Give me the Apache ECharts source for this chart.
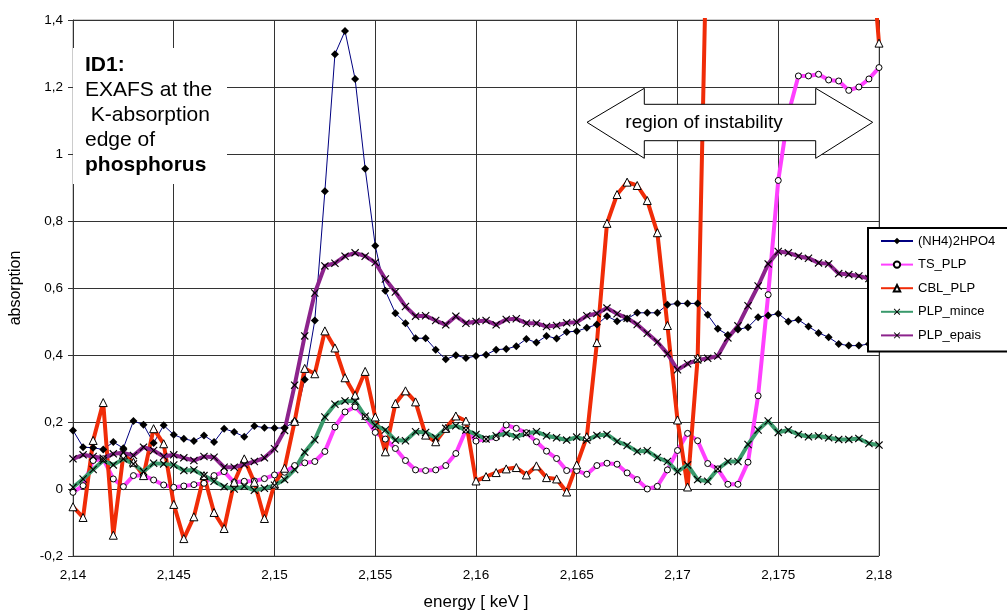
<!DOCTYPE html>
<html>
<head>
<meta charset="utf-8">
<script src="https://cdn.jsdelivr.net/npm/echarts@6/dist/echarts.min.js"></script>
<style>
  html, body { margin: 0; padding: 0; background: #fff; }
  #main { width: 1007px; height: 616px; }
</style>
</head>
<body>
<div id="main"></div>
<script>
// energy grid [keV], one sample every 0,0005
const energy = [
  2.14, 2.1405, 2.141, 2.1415, 2.142, 2.1425, 2.143, 2.1435, 2.144, 2.1445,
  2.145, 2.1455, 2.146, 2.1465, 2.147, 2.1475, 2.148, 2.1485, 2.149, 2.1495,
  2.15, 2.1505, 2.151, 2.1515, 2.152, 2.1525, 2.153, 2.1535, 2.154, 2.1545,
  2.155, 2.1555, 2.156, 2.1565, 2.157, 2.1575, 2.158, 2.1585, 2.159, 2.1595,
  2.16, 2.1605, 2.161, 2.1615, 2.162, 2.1625, 2.163, 2.1635, 2.164, 2.1645,
  2.165, 2.1655, 2.166, 2.1665, 2.167, 2.1675, 2.168, 2.1685, 2.169, 2.1695,
  2.17, 2.1705, 2.171, 2.1715, 2.172, 2.1725, 2.173, 2.1735, 2.174, 2.1745,
  2.175, 2.1755, 2.176, 2.1765, 2.177, 2.1775, 2.178, 2.1785, 2.179, 2.1795, 2.18
]

const nh4 = [
  0.175, 0.125, 0.123, 0.118, 0.14, 0.122, 0.203, 0.192, 0.137, 0.19,
  0.162, 0.15, 0.143, 0.16, 0.14, 0.18, 0.17, 0.156, 0.188, 0.183,
  0.182, 0.182, 0.202, 0.327, 0.503, 0.889, 1.298, 1.367, 1.224, 0.956,
  0.726, 0.592, 0.525, 0.495, 0.45, 0.45, 0.416, 0.387, 0.399, 0.391,
  0.397, 0.401, 0.416, 0.418, 0.426, 0.448, 0.437, 0.457, 0.449, 0.469,
  0.471, 0.481, 0.491, 0.516, 0.501, 0.508, 0.526, 0.526, 0.526, 0.55,
  0.554, 0.554, 0.554, 0.52, 0.478, 0.46, 0.476, 0.483, 0.513, 0.518,
  0.523, 0.5, 0.505, 0.485, 0.466, 0.453, 0.433, 0.428, 0.428, 0.433, 0.43
]

const tsPlp = [
  -0.01, 0.01, 0.085, 0.09, 0.03, 0.007, 0.04, 0.04, 0.027, 0.012,
  0.005, 0.009, 0.013, 0.017, 0.04, 0.052, 0.02, 0.023, 0.024, 0.031,
  0.042, 0.05, 0.07, 0.078, 0.082, 0.112, 0.185, 0.23, 0.245, 0.215,
  0.169, 0.149, 0.121, 0.085, 0.057, 0.055, 0.057, 0.07, 0.106, 0.176,
  0.143, 0.149, 0.153, 0.191, 0.181, 0.168, 0.141, 0.113, 0.091, 0.055,
  0.055, 0.044, 0.07, 0.077, 0.074, 0.048, 0.028, 0.0, 0.008, 0.057,
  0.115, 0.166, 0.144, 0.076, 0.06, 0.014, 0.014, 0.08, 0.278, 0.58,
  0.921, 1.12, 1.233, 1.233, 1.238, 1.221, 1.218, 1.19, 1.2, 1.224, 1.258
]

// off scale (above 1,4) between 2,1715 and 2,1795
const cblPlp = [
  -0.053, -0.085, 0.145, 0.258, -0.138, 0.102, 0.08, 0.04, 0.18, 0.135,
  -0.046, -0.148, -0.083, 0.04, -0.07, -0.118, 0.02, 0.09, 0.02, -0.088,
  0.015, 0.062, 0.202, 0.36, 0.344, 0.472, 0.421, 0.332, 0.28, 0.351,
  0.215, 0.111, 0.255, 0.293, 0.26, 0.161, 0.141, 0.181, 0.218, 0.203,
  0.024, 0.037, 0.049, 0.06, 0.064, 0.042, 0.069, 0.034, 0.03, -0.009,
  0.072, 0.156, 0.437, 0.793, 0.879, 0.916, 0.906, 0.861, 0.765, 0.488,
  0.206, 0.006, 0.391, 1.8, null, null, null, null, null, null,
  null, null, null, null, null, null, null, null, null, 1.7, 1.331
]

const plpMince = [
  0.005, 0.03, 0.058, 0.085, 0.072, 0.09, 0.075, 0.052, 0.077, 0.075,
  0.072, 0.055, 0.057, 0.04, 0.023, 0.007, 0.0, 0.008, -0.004, 0.002,
  0.011, 0.028, 0.058, 0.11, 0.147, 0.215, 0.253, 0.263, 0.262, 0.217,
  0.19, 0.176, 0.146, 0.144, 0.171, 0.169, 0.153, 0.181, 0.189, 0.176,
  0.163, 0.149, 0.159, 0.166, 0.156, 0.166, 0.171, 0.159, 0.153, 0.146,
  0.155, 0.146, 0.16, 0.163, 0.142, 0.13, 0.112, 0.114, 0.094, 0.082,
  0.052, 0.072, 0.028, 0.023, 0.06, 0.082, 0.082, 0.133, 0.176, 0.203,
  0.169, 0.176, 0.163, 0.156, 0.158, 0.153, 0.148, 0.148, 0.151, 0.136, 0.131
]

const plpEpais = [
  0.09, 0.102, 0.097, 0.092, 0.105, 0.108, 0.1, 0.125, 0.115, 0.097,
  0.102, 0.093, 0.085, 0.097, 0.095, 0.065, 0.065, 0.073, 0.082, 0.093,
  0.12, 0.175, 0.31, 0.457, 0.585, 0.666, 0.674, 0.695, 0.705, 0.695,
  0.676, 0.627, 0.588, 0.545, 0.516, 0.517, 0.503, 0.49, 0.516, 0.495,
  0.5, 0.503, 0.49, 0.506, 0.508, 0.495, 0.495, 0.485, 0.488, 0.496,
  0.498, 0.517, 0.524, 0.54, 0.523, 0.51, 0.491, 0.465, 0.439, 0.404,
  0.356, 0.374, 0.385, 0.39, 0.397, 0.451, 0.487, 0.547, 0.606, 0.672,
  0.709, 0.705, 0.695, 0.689, 0.675, 0.672, 0.643, 0.64, 0.636, 0.628, 0.625
]

const FONT = 'Liberation Sans, Arial, sans-serif'
const CROSS = 'path://M0,1L1,0L5,4L9,0L10,1L6,5L10,9L9,10L5,6L1,10L0,9L4,5Z'

const pairs = (ys) => energy.map((x, i) => [x, ys[i]])
const comma = (v, d) => String(parseFloat(v.toFixed(d))).replace('.', ',')

function line(name, ys, color, width, symbol, size, fill) {
  return {
    name: name,
    type: 'line',
    data: pairs(ys),
    symbol: symbol,
    symbolSize: size,
    showSymbol: true,
    showAllSymbol: true,
    connectNulls: false,
    lineStyle: { color: color, width: width },
    itemStyle: { color: fill, borderColor: '#000', borderWidth: fill === '#fff' ? 1 : 0 },
    emphasis: { disabled: true }
  }
}

var myChart = echarts.init(document.getElementById('main'), null, { renderer: 'canvas' })

const option = {
  animation: false,
  backgroundColor: '#fff',
  textStyle: { fontFamily: FONT },
  grid: {
    left: 72, right: 128, top: 20, bottom: 58,
    show: true, borderColor: '#999', borderWidth: 1, backgroundColor: '#fff'
  },
  legend: {
    orient: 'vertical',
    left: 868, top: 228,
    padding: [6, 30, 9, 12],
    itemWidth: 32, itemHeight: 8, itemGap: 9.6,
    backgroundColor: '#fff',
    borderColor: '#000', borderWidth: 2,
    textStyle: { fontFamily: FONT, fontSize: 13, lineHeight: 14, color: '#000' },
    z: 60
  },
  xAxis: {
    type: 'value',
    min: 2.14, max: 2.18, interval: 0.005,
    name: 'energy [ keV ]',
    nameLocation: 'middle',
    nameGap: 38,
    nameTextStyle: { fontFamily: FONT, fontSize: 17, color: '#000' },
    axisLine: { lineStyle: { color: '#333' } },
    axisTick: { length: 5, lineStyle: { color: '#333' } },
    axisLabel: { margin: 12, fontSize: 13.5, color: '#000', formatter: (v) => comma(v, 4) },
    splitLine: { lineStyle: { color: '#333', width: 1 } }
  },
  yAxis: {
    type: 'value',
    min: -0.2, max: 1.4, interval: 0.2,
    name: 'absorption',
    nameLocation: 'middle',
    nameGap: 49,
    nameTextStyle: { fontFamily: FONT, fontSize: 16, color: '#000' },
    axisLine: { show: true, lineStyle: { color: '#333' } },
    axisTick: { show: true, length: 5, lineStyle: { color: '#333' } },
    axisLabel: { margin: 10, fontSize: 13.5, color: '#000', formatter: (v) => comma(v, 1) },
    splitLine: { lineStyle: { color: '#333', width: 1 } }
  },
  series: [
    line('(NH4)2HPO4', nh4, '#000080', 1, 'diamond', 8, '#000'),
    line('TS_PLP', tsPlp, '#ff40ff', 4, 'circle', 6, '#fff'),
    line('CBL_PLP', cblPlp, '#f02c08', 4, 'triangle', 8, '#fff'),
    line('PLP_mince', plpMince, '#3a9a6c', 4, CROSS, 8, '#000'),
    line('PLP_epais', plpEpais, '#8c238c', 4, CROSS, 8, '#000')
  ],
  graphic: [
    {
      type: 'rect', z: 50,
      shape: { x: 73, y: 48, width: 154, height: 136 },
      style: { fill: '#fff' }
    },
    {
      type: 'text', z: 51, left: 85, top: 53,
      style: {
        text: '{b|ID1:}\nEXAFS at the\n K-absorption\nedge of\n{b|phosphorus}',
        font: '21px ' + FONT,
        fill: '#000',
        lineHeight: 25,
        rich: {
          b: { fontWeight: 'bold', fontSize: 21, fontFamily: FONT, lineHeight: 25 }
        }
      }
    },
    {
      type: 'polygon', z: 52,
      shape: {
        points: [
          [587, 122.3], [644.3, 88.3], [644.3, 104.3], [815.7, 104.3], [815.7, 88.3],
          [872.7, 122.3], [815.7, 158.3], [815.7, 140.7], [644.3, 140.7], [644.3, 158.3]
        ]
      },
      style: { fill: '#fff', stroke: '#000', lineWidth: 1 }
    },
    {
      type: 'text', z: 53, x: 704, y: 123,
      style: {
        text: 'region of instability',
        font: '19px ' + FONT,
        fill: '#000',
        align: 'center',
        verticalAlign: 'middle'
      }
    }
  ]
}

myChart.setOption(option)
</script>
</body>
</html>
